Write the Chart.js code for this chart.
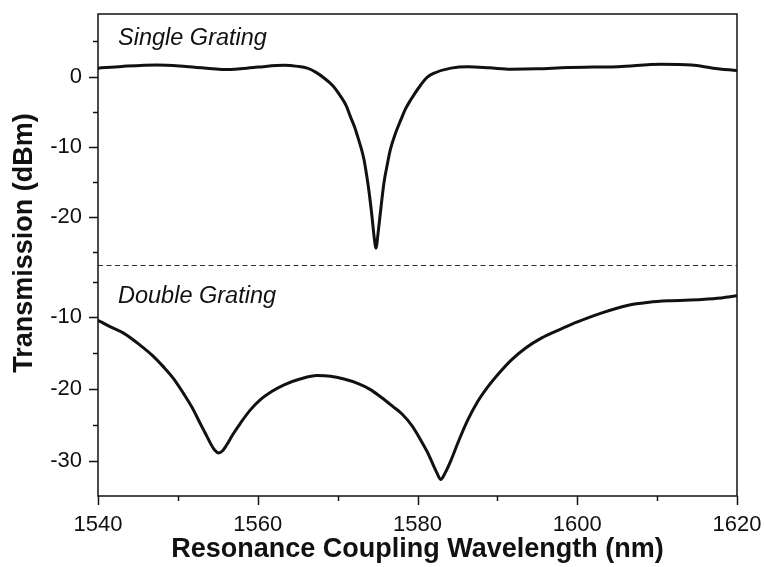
<!DOCTYPE html>
<html>
<head>
<meta charset="utf-8">
<script src="https://cdn.jsdelivr.net/npm/chart.js@4/dist/chart.umd.min.js"></script>
<style>
  html, body { margin: 0; padding: 0; background: #fff; }
  #wrap { width: 764px; height: 567px; }
</style>
</head>
<body>
<div id="wrap"><canvas id="chart"></canvas></div>
<script>
// Single grating trace (nm, dBm)
const singleWavelength = [
  1540, 1543, 1547.4, 1551, 1556.1, 1560, 1563.3, 1565, 1566.2, 1567.3, 1568.3, 1569.4,
  1570.4, 1571.1, 1571.6, 1572.1, 1572.5, 1573.0, 1573.3, 1573.6, 1573.9, 1574.3, 1574.55,
  1574.8, 1575.05, 1575.3, 1575.8, 1576.2, 1576.6, 1577.2, 1577.9, 1578.5, 1579.1, 1580.4,
  1581.2, 1582.1, 1584.2, 1586.3, 1589, 1591.7, 1595, 1598.8, 1602, 1605.1, 1610.5, 1614.3,
  1617, 1620,
];
const singleDbm = [
  1.2, 1.45, 1.66, 1.45, 1.0, 1.35, 1.6, 1.45, 1.2, 0.6, -0.2, -1.3,
  -2.85, -4.2, -5.7, -7.1, -8.5, -10.4, -11.8, -13.8, -16.1, -19.9, -22.6,
  -24.4, -22.4, -19.9, -15.1, -12.6, -10.4, -8.2, -6.2, -4.6, -3.4, -1.2,
  -0.1, 0.5, 1.2, 1.4, 1.25, 1.05, 1.1, 1.3, 1.35, 1.4, 1.75, 1.65,
  1.2, 0.85,
];

// Double grating trace (nm, dBm)
const doubleWavelength = [
  1540, 1541.5, 1543.2, 1545.3, 1546.8, 1548.2, 1549.5, 1550.7, 1551.8, 1552.8, 1553.5,
  1554.1, 1554.6, 1555.1, 1555.6, 1556.1, 1556.9, 1557.8, 1559, 1560.3, 1561.8, 1563.3,
  1565.3, 1567.4, 1569.1, 1570.8, 1572.5, 1574, 1575.4, 1576.9, 1578.1, 1579.3, 1580.4,
  1581.2, 1581.7, 1582.4, 1582.9, 1583.5, 1584.2, 1585.2, 1586.3, 1587.5, 1588.8, 1590.2,
  1591.7, 1593.5, 1595.5, 1597.8, 1600.1, 1603, 1606.4, 1609, 1611.4, 1615.6, 1618, 1620,
];
const doubleDbm = [
  -10.4, -11.3, -12.2, -13.9, -15.3, -16.9, -18.6, -20.6, -22.6, -24.8, -26.3,
  -27.6, -28.5, -28.9, -28.6, -27.8, -26.3, -24.8, -23.0, -21.5, -20.3, -19.4,
  -18.6, -18.1, -18.2, -18.6, -19.2, -20.0, -21.1, -22.4, -23.5, -25.1, -27.1,
  -28.7, -29.9, -31.6, -32.6, -31.6, -29.9, -27.1, -24.3, -21.8, -19.7, -17.8,
  -16.0, -14.3, -12.9, -11.7, -10.6, -9.4, -8.3, -7.9, -7.7, -7.5, -7.3, -7.0,
];

const wavelengthTicks = [1540, 1550, 1560, 1570, 1580, 1590, 1600, 1610, 1620];
const singleTicks = [5, 0, -5, -10, -15, -20, -25];
const doubleTicks = [-5, -10, -15, -20, -25, -30];
const panelLabels = ["Single Grating", "Double Grating"];
const xTitle = "Resonance Coupling Wavelength (nm)";
const yTitle = "Transmission (dBm)";

const INK = "#111";
const FAMILY = "'Liberation Sans', Arial, sans-serif";
const TICK_FONT = { family: FAMILY, size: 22 };

function toPoints(xs, ys) {
  return xs.map((x, i) => ({ x, y: ys[i] }));
}

function setTicks(values) {
  return (scale) => {
    scale.ticks = values.map((value) => ({ value }));
  };
}

function majorLabel(step) {
  return (value) => (value % step === 0 ? String(value) : "");
}

// Fixed box sizes; label overhang must not push the plot area around.
function fixWidth(width) {
  return (s) => {
    s.width = width;
    s.paddingTop = 0;
    s.paddingBottom = 0;
  };
}

function fixHeight(height) {
  return (s) => {
    s.height = height;
    s.paddingLeft = 0;
    s.paddingRight = 0;
  };
}

function strokeLine(ctx, x0, y0, x1, y1) {
  ctx.beginPath();
  ctx.moveTo(x0, y0);
  ctx.lineTo(x1, y1);
  ctx.stroke();
}

// Frame, outward tick marks (long majors, short minors), divider and panel captions.
const panelFrame = {
  id: "panelFrame",
  afterDraw(chart) {
    const { ctx, chartArea: a, scales } = chart;
    ctx.save();
    ctx.strokeStyle = INK;
    ctx.lineWidth = 1.5;
    for (const id of ["ySingle", "yDouble"]) {
      const s = scales[id];
      for (const t of s.ticks) {
        const y = Math.round(s.getPixelForValue(t.value)) + 0.5;
        const len = t.value % 10 === 0 ? 9 : 5;
        strokeLine(ctx, a.left - len, y, a.left, y);
      }
    }
    const sx = scales.x;
    for (const t of sx.ticks) {
      const x = Math.round(sx.getPixelForValue(t.value)) + 0.5;
      const len = t.value % 20 === 0 ? 9 : 5;
      strokeLine(ctx, x, a.bottom, x, a.bottom + len);
    }

    const yDiv = Math.round(scales.yDouble.top) + 0.5;
    ctx.lineWidth = 1;
    ctx.strokeStyle = "#333";
    ctx.setLineDash([5, 3.5]);
    strokeLine(ctx, a.left, yDiv, a.right, yDiv);
    ctx.setLineDash([]);

    ctx.strokeStyle = INK;
    ctx.lineWidth = 1.5;
    ctx.strokeRect(a.left, a.top, a.right - a.left, a.bottom - a.top);

    ctx.fillStyle = INK;
    ctx.textAlign = "left";
    ctx.textBaseline = "alphabetic";
    ctx.font = "italic 23.5px " + FAMILY;
    ctx.fillText(panelLabels[0], a.left + 20, scales.ySingle.top + 31);
    ctx.fillText(panelLabels[1], a.left + 20, scales.yDouble.top + 38);

    ctx.font = "bold 27px " + FAMILY;
    ctx.textAlign = "center";
    ctx.textBaseline = "middle";
    ctx.translate(25, (a.top + a.bottom) / 2 - 12);
    ctx.rotate(-Math.PI / 2);
    ctx.fillText(yTitle, 0, 0);
    ctx.restore();
  },
};

const lineStyle = {
  borderColor: INK,
  borderWidth: 3,
  pointRadius: 0,
  fill: false,
  cubicInterpolationMode: "monotone",
};

const yTicks = { padding: 16, color: INK, font: TICK_FONT, autoSkip: false, callback: majorLabel(10) };

new Chart(document.getElementById("chart"), {
  type: "line",
  data: {
    datasets: [
      { label: panelLabels[0], data: toPoints(singleWavelength, singleDbm), yAxisID: "ySingle", ...lineStyle },
      { label: panelLabels[1], data: toPoints(doubleWavelength, doubleDbm), yAxisID: "yDouble", ...lineStyle },
    ],
  },
  options: {
    responsive: true,
    maintainAspectRatio: false,
    animation: false,
    layout: { padding: { top: 14, right: 27, left: 0, bottom: 0 } },
    plugins: { legend: { display: false }, tooltip: { enabled: false } },
    scales: {
      x: {
        type: "linear",
        min: 1540,
        max: 1620,
        afterBuildTicks: setTicks(wavelengthTicks),
        afterFit: fixHeight(71),
        grid: { display: false, drawTicks: false },
        border: { display: false },
        ticks: { padding: 16, color: INK, font: TICK_FONT, maxRotation: 0, autoSkip: false, callback: majorLabel(20) },
        title: {
          display: true,
          text: xTitle,
          color: INK,
          font: { family: FAMILY, size: 27, weight: "bold" },
          padding: { top: 0, bottom: 1 },
        },
      },
      // stacked panels are placed bottom-up in definition order
      yDouble: {
        type: "linear",
        position: "left",
        stack: "panels",
        stackWeight: 231,
        min: -34.9,
        max: -2.7,
        afterBuildTicks: setTicks(doubleTicks),
        afterFit: fixWidth(98),
        grid: { display: false, drawTicks: false },
        border: { display: false },
        ticks: yTicks,
      },
      ySingle: {
        type: "linear",
        position: "left",
        stack: "panels",
        stackWeight: 251,
        min: -26.8,
        max: 8.9,
        afterBuildTicks: setTicks(singleTicks),
        afterFit: fixWidth(98),
        grid: { display: false, drawTicks: false },
        border: { display: false },
        ticks: yTicks,
      },
    },
  },
  plugins: [panelFrame],
});
</script>
</body>
</html>
